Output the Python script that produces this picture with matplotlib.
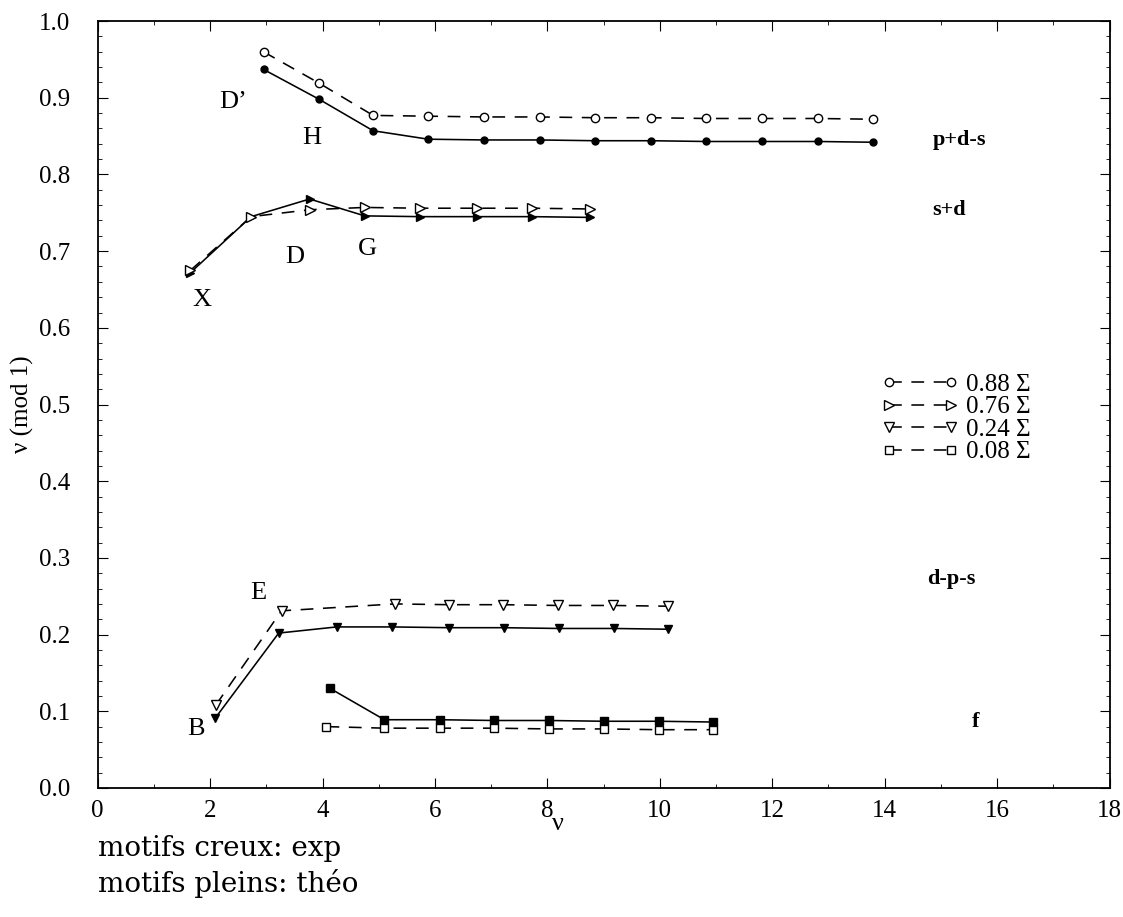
import numpy as np
import matplotlib
matplotlib.use('Agg')
import matplotlib.pyplot as plt
from matplotlib.ticker import MultipleLocator, FormatStrFormatter
from matplotlib import font_manager

plt.rcParams['font.family'] = 'serif'
plt.rcParams['font.serif'] = ['Liberation Serif']

# p+d-s series (0.88 Sigma)
pds_x = [2.95, 3.94, 4.9, 5.88, 6.87, 7.86, 8.85, 9.84, 10.83, 11.82, 12.81, 13.8]
pds_exp = [0.960, 0.919, 0.877, 0.876, 0.875, 0.875, 0.874, 0.874, 0.873, 0.873, 0.873, 0.872]
pds_theo = [0.937, 0.898, 0.857, 0.846, 0.845, 0.845, 0.844, 0.844, 0.843, 0.843, 0.843, 0.842]

# s+d series (0.76 Sigma)
sd_x = [1.65, 2.73, 3.77, 4.75, 5.73, 6.74, 7.73, 8.75]
sd_exp = [0.675, 0.745, 0.754, 0.757, 0.756, 0.756, 0.756, 0.755]
sd_theo = [0.672, 0.745, 0.768, 0.746, 0.745, 0.745, 0.745, 0.744]

# d-p-s series (0.24 Sigma)
dps_x_exp = [2.10, 3.27, 5.28, 6.25, 7.21, 8.19, 9.17, 10.15]
dps_exp = [0.108, 0.231, 0.240, 0.239, 0.239, 0.238, 0.238, 0.237]
dps_x_theo = [2.09, 3.22, 4.25, 5.24, 6.25, 7.22, 8.20, 9.18, 10.15]
dps_theo = [0.091, 0.202, 0.210, 0.210, 0.209, 0.209, 0.208, 0.208, 0.207]

# f series (0.08 Sigma)
f_x_exp = [4.07, 5.10, 6.09, 7.05, 8.02, 9.00, 9.98, 10.95]
f_exp = [0.080, 0.078, 0.078, 0.078, 0.077, 0.077, 0.076, 0.076]
f_x_theo = [4.13, 5.10, 6.09, 7.05, 8.02, 9.00, 9.98, 10.95]
f_theo = [0.130, 0.089, 0.089, 0.088, 0.088, 0.087, 0.087, 0.086]

legend_labels = ['0.88 Σ', '0.76 Σ', '0.24 Σ', '0.08 Σ']
series_names = ['p+d-s', 's+d', 'd-p-s', 'f']
series_name_xy = [(14.85, 0.845), (14.85, 0.754), (14.75, 0.272), (15.55, 0.086)]
point_labels = ['D’', 'H', 'D', 'G', 'X', 'E', 'B']
point_label_xy = [(2.4, 0.895), (3.8, 0.848), (3.5, 0.692), (4.8, 0.703), (1.85, 0.636), (2.85, 0.254), (1.75, 0.077)]

fig = plt.figure(figsize=(11.23, 9.17), dpi=100)
ax = fig.add_axes([0.087, 0.1407, 0.901, 0.8363])

lw = 1.15
ms = 6
dash = (8, 6)
# theory: filled markers, solid lines
ax.plot(pds_x, pds_theo, '-', color='black', lw=lw, marker='o', ms=5, mfc='black')
ax.plot(sd_x, sd_theo, '-', color='black', lw=lw, marker='>', ms=ms, mfc='black')
ax.plot(dps_x_theo, dps_theo, '-', color='black', lw=lw, marker='v', ms=ms, mfc='black')
ax.plot(f_x_theo, f_theo, '-', color='black', lw=lw, marker='s', ms=ms, mfc='black')

# experiment: open markers, dashed lines
h1, = ax.plot(pds_x, pds_exp, '--', color='black', lw=lw, marker='o', ms=ms, mfc='white', dashes=dash)
h2, = ax.plot(sd_x, sd_exp, '--', color='black', lw=lw, marker='>', ms=ms + 1, mfc='white', dashes=dash)
h3, = ax.plot(dps_x_exp, dps_exp, '--', color='black', lw=lw, marker='v', ms=ms + 1, mfc='white', dashes=dash)
h4, = ax.plot(f_x_exp, f_exp, '--', color='black', lw=lw, marker='s', ms=ms, mfc='white', dashes=dash)

ax.legend([h1, h2, h3, h4], legend_labels, loc='upper left', bbox_to_anchor=(0.752, 0.570),
          frameon=False, numpoints=2, handlelength=3.1, fontsize=18, labelspacing=0.0,
          handletextpad=0.3)

for name, (xx, yy) in zip(series_names, series_name_xy):
    ax.text(xx, yy, name, fontsize=16, fontweight='bold', ha='left', va='center')

for lab, (xx, yy) in zip(point_labels, point_label_xy):
    ax.text(xx, yy, lab, fontsize=19, ha='center', va='center')

ax.set_xlim(0, 18)
ax.set_ylim(0, 1.0)
ax.xaxis.set_major_locator(MultipleLocator(2))
ax.xaxis.set_minor_locator(MultipleLocator(1))
ax.yaxis.set_major_locator(MultipleLocator(0.1))
ax.yaxis.set_minor_locator(MultipleLocator(0.02))
ax.yaxis.set_major_formatter(FormatStrFormatter('%.1f'))
ax.tick_params(which='both', direction='in', top=True, right=True, labelsize=18)
ax.tick_params(which='major', length=7)
ax.tick_params(which='minor', length=3)
ax.tick_params(axis='y', which='major', pad=20)
ax.tick_params(axis='x', which='major', pad=9)
for s in ax.spines.values():
    s.set_linewidth(1.3)

ax.set_xlabel('ν', fontsize=19)
ax.xaxis.set_label_coords(0.455, -0.032)
ax.set_ylabel('ν (mod 1)', fontsize=18)
ax.yaxis.set_label_coords(-0.063, 0.5)

note_font = font_manager.FontProperties(fname=font_manager.findfont('DejaVu Serif'), size=20)
fig.text(0.087, 0.075, 'motifs creux: exp', fontproperties=note_font, ha='left', va='center')
fig.text(0.087, 0.037, 'motifs pleins: théo', fontproperties=note_font, ha='left', va='center')

fig.savefig('out.png', dpi=100)
